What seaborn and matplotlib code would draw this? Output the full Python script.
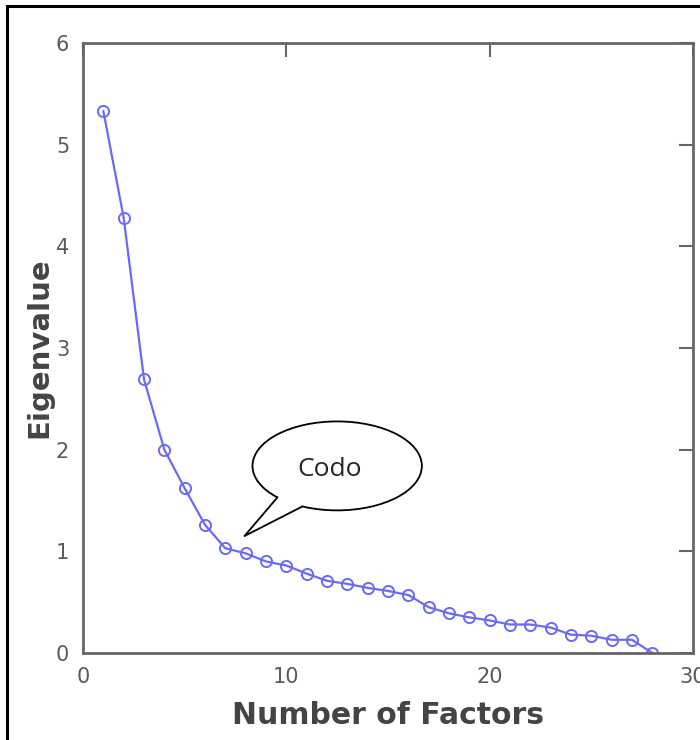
import matplotlib
matplotlib.use("Agg")
import matplotlib.pyplot as plt
import seaborn as sns
import pandas as pd
from matplotlib.patches import Ellipse, Polygon, Rectangle

# scree plot values
factors = list(range(1, 29))
eigenvalues = [5.33, 4.28, 2.69, 2.00, 1.62, 1.26, 1.03, 0.98, 0.90, 0.86,
               0.78, 0.71, 0.68, 0.64, 0.61, 0.57, 0.45, 0.39, 0.35, 0.32,
               0.28, 0.28, 0.25, 0.18, 0.17, 0.13, 0.13, 0.00]
x_ticks = [0, 10, 20, 30]
y_ticks = [0, 1, 2, 3, 4, 5, 6]

df = pd.DataFrame({"factor": factors, "eigen": eigenvalues})

sns.set_style("white")
plt.rcParams["font.family"] = ["DejaVu Sans"]

fig = plt.figure(figsize=(7, 7.4), dpi=100)
ax = fig.add_axes([0.1186, 0.1176, 0.8714, 0.8244])

blue = "#6a6af5"
sns.lineplot(data=df, x="factor", y="eigen", color=blue, linewidth=1.6,
             marker="o", markersize=8, markerfacecolor="none",
             markeredgecolor=blue, markeredgewidth=1.4, ax=ax)

ax.set_xlim(0, 30)
ax.set_ylim(0, 6)
ax.set_xticks(x_ticks)
ax.set_yticks(y_ticks)

grey = "#666666"
for s in ax.spines.values():
    s.set_color(grey)
    s.set_linewidth(2)
    s.set_visible(True)
ax.tick_params(direction="in", length=10, width=1.5, color=grey,
               labelcolor="#5a5a5a", labelsize=15,
               top=True, right=True, pad=10)

ax.set_xlabel("Number of Factors", fontsize=21.5, fontweight="bold",
              color="#444444", labelpad=10)
ax.set_ylabel("Eigenvalue", fontsize=21, fontweight="bold",
              color="#444444", labelpad=2)

# speech bubble "Codo"
ell = Ellipse((12.5, 1.84), 8.33, 0.875, facecolor="white",
              edgecolor="black", linewidth=1.3, zorder=5)
ax.add_patch(ell)
j1 = (9.56, 1.53)
tip = (7.94, 1.15)
j2 = (10.78, 1.44)
tail_fill = Polygon([j1, tip, j2, (10.3, 1.62)], closed=True,
                    facecolor="white", edgecolor="none", zorder=6)
ax.add_patch(tail_fill)
ax.plot([j1[0], tip[0], j2[0]], [j1[1], tip[1], j2[1]],
        color="black", linewidth=1.3, zorder=7)
ax.text(12.15, 1.80, "Codo", fontsize=19, ha="center", va="center",
        family=["Open Sans", "DejaVu Sans"], zorder=8)

# outer frame of the picture
fig.add_artist(Rectangle((7 / 700, -0.1), 1.2, 1 - 6 / 740 + 0.1,
                         transform=fig.transFigure, fill=False,
                         edgecolor="black", linewidth=2.2))

fig.savefig("out.png", dpi=100)
